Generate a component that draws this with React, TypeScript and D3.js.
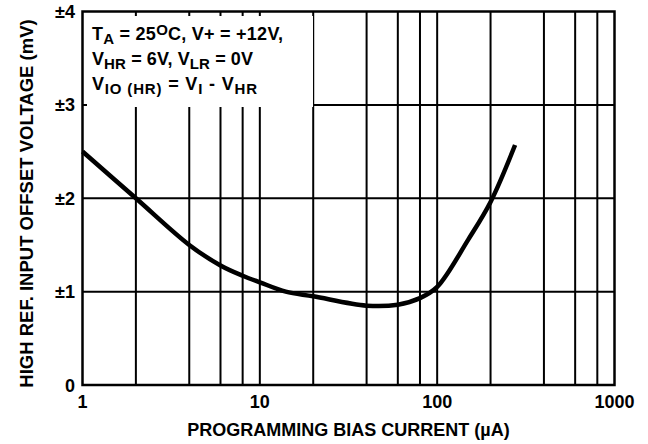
import React from "react";
import * as d3 from "d3";

const biasCurrent = [1, 2, 4, 6, 8, 10, 14, 20, 40, 60, 80, 100, 150, 200, 275];
const offsetVoltage = [2.5, 2.0, 1.5, 1.28, 1.17, 1.1, 1.0, 0.95, 0.85, 0.86, 0.93, 1.05, 1.56, 1.96, 2.57];
const xTickValues = [1, 10, 100, 1000];
const xTickLabels = ["1", "10", "100", "1000"];
const xGridValues = [2, 4, 6, 8, 10, 20, 40, 60, 80, 100, 200, 400, 600, 800];
const yTickValues = [0, 1, 2, 3, 4];
const yTickLabels = ["0", "±1", "±2", "±3", "±4"];
const yGridValues = [1, 2, 3];
const xAxisTitle = "PROGRAMMING BIAS CURRENT (µA)";
const yAxisTitle = "HIGH REF. INPUT OFFSET VOLTAGE (mV)";

type Seg = { t: string; s?: "sub" | "sup" };
const noteLines: Seg[][] = [
  [{ t: "T" }, { t: "A", s: "sub" }, { t: " = 25" }, { t: "O", s: "sup" }, { t: "C, V+ = +12V," }],
  [{ t: "V" }, { t: "HR", s: "sub" }, { t: " = 6V, V" }, { t: "LR", s: "sub" }, { t: " = 0V" }],
  [{ t: "V" }, { t: "IO (HR)", s: "sub" }, { t: " = V" }, { t: "I", s: "sub" }, { t: " - V" }, { t: "HR", s: "sub" }],
];
const noteWidths = [191, 161, 165];

const W = 648;
const H = 444;
const left = 82.5;
const right = 614.5;
const top = 11.5;
const bottom = 385;
const FONT = "'Liberation Sans', Arial, Helvetica, sans-serif";

export default function App() {
  const x = d3.scaleLog().domain([1, 1000]).range([left, right]);
  const y = d3.scaleLinear().domain([0, 4]).range([bottom, top]);
  const pts = biasCurrent.map((c, i) => [c, offsetVoltage[i]] as [number, number]);
  const line = d3
    .line<[number, number]>()
    .x((d) => x(d[0]))
    .y((d) => y(d[1]))
    .curve(d3.curveCatmullRom.alpha(0.5));

  const renderLine = (segs: Seg[], yy: number, key: number) => {
    let state: "base" | "sub" | "sup" = "base";
    return (
      <text
        key={key}
        x={92}
        y={yy}
        fontFamily={FONT}
        fontWeight="bold"
        fontSize={18}
        fill="#000"
        textLength={noteWidths[key]}
        lengthAdjust="spacing"
      >
        {segs.map((sg, i) => {
          const target = sg.s ?? "base";
          const off = (s: string) => (s === "sub" ? 4 : s === "sup" ? -4.5 : 0);
          const dy = off(target) - off(state);
          state = target;
          return (
            <tspan key={i} dy={dy} fontSize={target === "base" ? 18 : 15}>
              {sg.t}
            </tspan>
          );
        })}
      </text>
    );
  };

  return (
    <svg width={W} height={H} style={{ position: "absolute", left: 0, top: 0, background: "#fff" }}>
      <rect width={W} height={H} fill="#fff" />
      {xGridValues.map((v) => (
        <line key={"gx" + v} x1={x(v)} x2={x(v)} y1={top} y2={bottom} stroke="#000" strokeWidth={2} />
      ))}
      {yGridValues.map((v) => (
        <line key={"gy" + v} x1={left} x2={right} y1={y(v)} y2={y(v)} stroke="#000" strokeWidth={2} />
      ))}
      <rect x={87} y={16} width={226} height={91} fill="#fff" />
      <path d={line(pts) ?? ""} fill="none" stroke="#000" strokeWidth={4.5} />
      <rect x={left} y={top} width={right - left} height={bottom - top} fill="none" stroke="#000" strokeWidth={2.5} />
      {noteLines.map((l, i) => renderLine(l, 39.5 + i * 25, i))}
      {xTickValues.map((v, i) => (
        <text key={"xl" + v} x={x(v)} y={408} textAnchor="middle" fontFamily={FONT} fontWeight="bold" fontSize={18}>
          {xTickLabels[i]}
        </text>
      ))}
      {yTickValues.map((v, i) => (
        <text key={"yl" + v} x={75} y={y(v) + 6.5} textAnchor="end" fontFamily={FONT} fontWeight="bold" fontSize={18}>
          {yTickLabels[i]}
        </text>
      ))}
      <text x={(left + right) / 2} y={436} textAnchor="middle" fontFamily={FONT} fontWeight="bold" fontSize={18}>
        {xAxisTitle}
      </text>
      <text
        transform={`translate(33, 203.5) rotate(-90)`}
        textAnchor="middle"
        fontFamily={FONT}
        fontWeight="bold"
        fontSize={18.5}
      >
        {yAxisTitle}
      </text>
    </svg>
  );
}
